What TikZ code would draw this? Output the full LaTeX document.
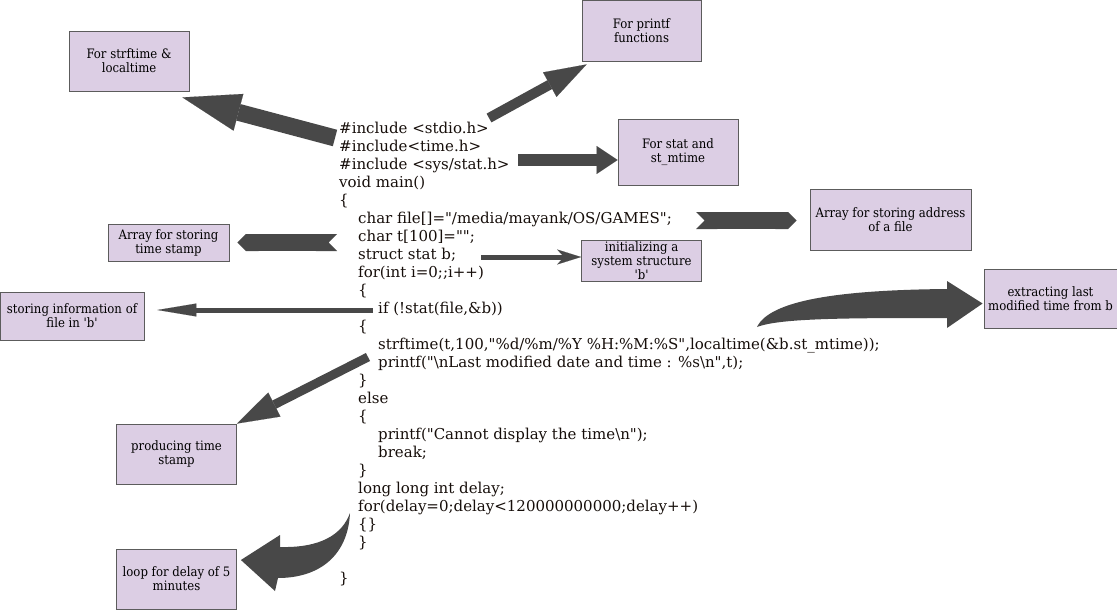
\documentclass[tikz,border=0pt]{standalone}
\usepackage{fontspec}
\setmainfont{DejaVu Serif}
\newfontfamily\labelfont{DejaVu Serif Condensed}
\usepackage{tikz}
\usetikzlibrary{calc,arrows.meta,positioning}
\definecolor{boxLilac}{RGB}{220,206,228}
\definecolor{boxEdge}{RGB}{92,92,92}
\definecolor{arrowGray}{RGB}{72,72,72}
\definecolor{codeInk}{RGB}{22,14,10}
\newcommand{\dq}{\textquotedbl{}}
\tikzset{
  infobox/.style={draw=boxEdge, fill=boxLilac, line width=0.8pt, align=center, inner sep=0pt, font=\labelfont\fontsize{13}{14}\selectfont},
  fatarrow/.style={draw=arrowGray},
}

\begin{document}
\begin{tikzpicture}[x=1pt,y=-1pt]
\useasboundingbox (0,0) rectangle (1117,610);
% source listing
\node[anchor=base west, align=left, inner sep=0pt, text=codeInk, font=\fontsize{15}{18}\selectfont] (src) at (339,583) {%
\#include <stdio.h>\\
\#include<time.h>\\
\#include <sys/stat.h>\\
void main()\\
\{\\
\hspace*{19pt}char file[]=\dq/media/mayank/OS/GAMES\dq;\\
\hspace*{19pt}char t[100]=\dq\dq;\\
\hspace*{19pt}struct stat b;\\
\hspace*{19pt}for(int i=0;;i++)\\
\hspace*{19pt}\{\\
\hspace*{39pt}if (!stat(file,\&b))\\
\hspace*{19pt}\{\\
\hspace*{39pt}strftime(t,100,\dq\%d/\%m/\%Y \%H:\%M:\%S\dq,localtime(\&b.st\_mtime));\\
\hspace*{39pt}printf(\dq\textbackslash nLast modified date and time : \%s\textbackslash n\dq,t);\\
\hspace*{19pt}\}\\
\hspace*{19pt}else\\
\hspace*{19pt}\{\\
\hspace*{39pt}printf(\dq Cannot display the time\textbackslash n\dq);\\
\hspace*{39pt}break;\\
\hspace*{19pt}\}\\
\hspace*{19pt}long long int delay;\\
\hspace*{19pt}for(delay=0;delay<120000000000;delay++)\\
\hspace*{19pt}\{\}\\
\hspace*{19pt}\}\\
\mbox{}\\
\}};

% notes
\node[infobox, minimum width=120pt, minimum height=60pt] (strf) at (129,61) {For strftime \&\\localtime};
\node[infobox, minimum width=119pt, minimum height=61pt] (prnt) at (641.5,30.5) {For printf\\functions};
\node[infobox, minimum width=120pt, minimum height=66pt] (stat) at (678,152) {For stat and\\st\_mtime};
\node[infobox, minimum width=161pt, minimum height=61pt] (addr) at (890.5,219.5) {Array for storing address\\of a file};
\node[infobox, minimum width=121pt, minimum height=37pt] (tstamp) at (168.5,242.5) {Array for storing\\time stamp};
\node[infobox, minimum width=120pt, minimum height=41pt] (init) at (641.5,260.5) {initializing a\\system structure\\\textquotesingle b\textquotesingle};
\node[infobox, minimum width=133pt, minimum height=59pt] (xtr) at (1050.5,298.5) {extracting last\\modified time from b};
\node[infobox, minimum width=144pt, minimum height=48pt] (info) at (72,316) {storing information of\\file in \textquotesingle b\textquotesingle};
\node[infobox, minimum width=120pt, minimum height=60pt] (prod) at (176.5,454) {producing time\\stamp};
\node[infobox, minimum width=120pt, minimum height=60pt] (loop) at (176.5,579) {loop for delay of 5\\minutes};

% arrow tails at the code
\coordinate (stdioTail) at (335,138);
\coordinate (stdioOut) at (489,118);
\coordinate (statTail) at (518,160);
\coordinate (fileTail) at (696,220.5);
\coordinate (tTail) at (337,242.5);
\coordinate (structTail) at (481,257);
\coordinate (ifTail) at (373,310);
\coordinate (strfTail) at (368,357);
\coordinate (mtimeTail) at (757,327);
\coordinate (delayTail) at (350,513);

\draw[fatarrow, line width=17pt, -{Triangle[length=58pt,width=38pt,line width=0.1pt]}] (stdioTail) -- ($(strf.south east)+(-7,6)$);
\draw[fatarrow, line width=10pt, -{Triangle[length=42pt,width=28pt,line width=0.1pt]}] (stdioOut) -- ($(prnt.south west)+(5,3)$);
\draw[fatarrow, line width=12pt, -{Triangle[length=21pt,width=28pt,line width=0.1pt]}] (statTail) -- (stat.west |- statTail);
\draw[fatarrow, line width=17pt, {Triangle Cap[reversed]}-{Triangle Cap}] (fileTail) -- ($(addr.west)+(-13,1)$);
\draw[fatarrow, line width=17pt, {Triangle Cap[reversed]}-{Triangle Cap}] (tTail) -- ($(tstamp.east)+(8,0)$);
\draw[fatarrow, line width=5pt, -{Stealth[length=24pt,width=15pt,inset=7pt,line width=0.1pt]}] (structTail) -- (init.west |- structTail);
\draw[fatarrow, line width=5pt, -{Triangle[length=39pt,width=13pt,line width=0.1pt]}] (ifTail) -- ($(info.east |- ifTail)+(13,0)$);
\draw[fatarrow, line width=9pt, -{Triangle[length=42pt,width=27pt,line width=0.1pt]}] (strfTail) -- (prod.north east);
\fill[arrowGray] (mtimeTail) .. controls (770,300) and (840,290) .. (947,289) -- (947,281) -- ($(xtr.west)+(-1,5)$) -- (947,328) -- (947,318) .. controls (850,318) and (780,318) .. (mtimeTail) -- cycle;
\fill[arrowGray] (delayTail) .. controls (348,555) and (320,578) .. (278,578) -- (275,591) -- ($(loop.east)+(4,-19)$) -- (280,535) -- (280,547) .. controls (320,548) and (342,535) .. (delayTail) -- cycle;
\end{tikzpicture}
\end{document}
